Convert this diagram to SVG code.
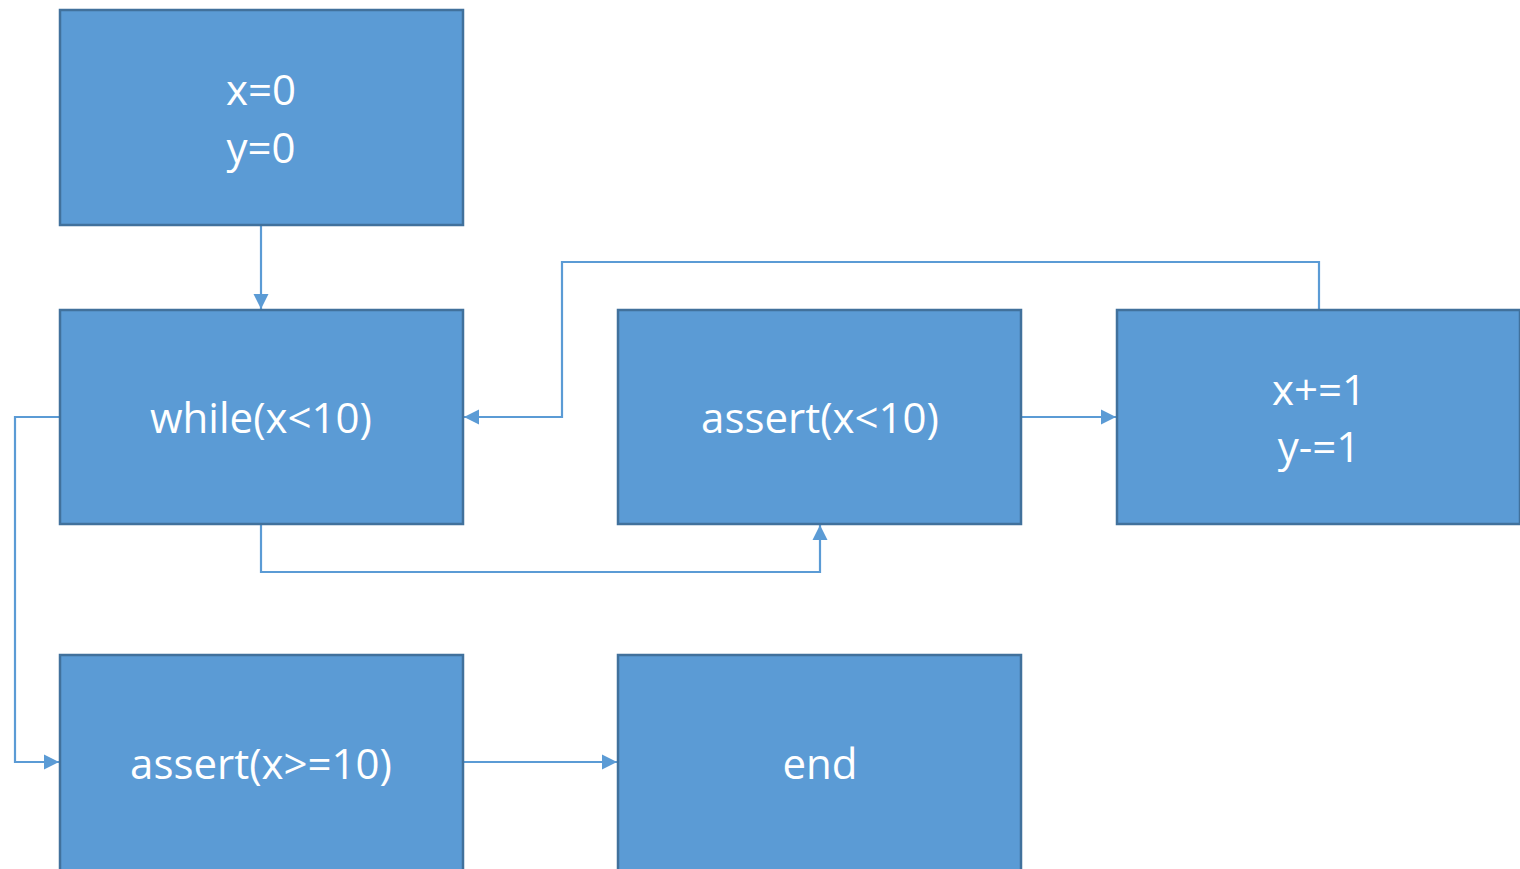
<svg xmlns="http://www.w3.org/2000/svg" width="1520" height="869" viewBox="0 0 1520 869">
<defs>
<marker id="ah" viewBox="0 0 10 10" refX="10" refY="5" markerWidth="7" markerHeight="7" orient="auto" markerUnits="strokeWidth">
<path d="M0,0 L10,5 L0,10 z" fill="#5B9BD5"/>
</marker>
<style>
.box{fill:#5B9BD5;stroke:#41719C;stroke-width:2.5}
.lbl{font-family:"Open Sans","Liberation Sans",sans-serif;font-size:42px;fill:#FFFFFF;text-anchor:middle}
.con{fill:none;stroke:#5B9BD5;stroke-width:2.2;marker-end:url(#ah)}
</style>
</defs>
<rect width="1520" height="869" fill="#FFFFFF"/>
<g id="connectors">
<path class="con" d="M261,225 L261,309"/>
<path class="con" d="M1319,310 L1319,262 L562,262 L562,417 L464,417"/>
<path class="con" d="M261,524 L261,572 L820,572 L820,525"/>
<path class="con" d="M1021,417 L1116,417"/>
<path class="con" d="M60,417 L15,417 L15,762 L59,762"/>
<path class="con" d="M463,762 L617,762"/>
</g>
<g id="n1"><rect class="box" x="60" y="10" width="403" height="215"/><text class="lbl" x="261" y="105">x=0</text><text class="lbl" x="261" y="163">y=0</text></g>
<g id="n2"><rect class="box" x="60" y="310" width="403" height="214"/><text class="lbl" x="261" y="433">while(x&lt;10)</text></g>
<g id="n3"><rect class="box" x="618" y="310" width="403" height="214"/><text class="lbl" x="820" y="433">assert(x&lt;10)</text></g>
<g id="n4"><rect class="box" x="1117" y="310" width="403" height="214"/><text class="lbl" x="1319" y="405">x+=1</text><text class="lbl" x="1319" y="462">y-=1</text></g>
<g id="n5"><rect class="box" x="60" y="655" width="403" height="216"/><text class="lbl" x="261" y="779">assert(x&gt;=10)</text></g>
<g id="n6"><rect class="box" x="618" y="655" width="403" height="216"/><text class="lbl" x="820" y="779">end</text></g>
</svg>
